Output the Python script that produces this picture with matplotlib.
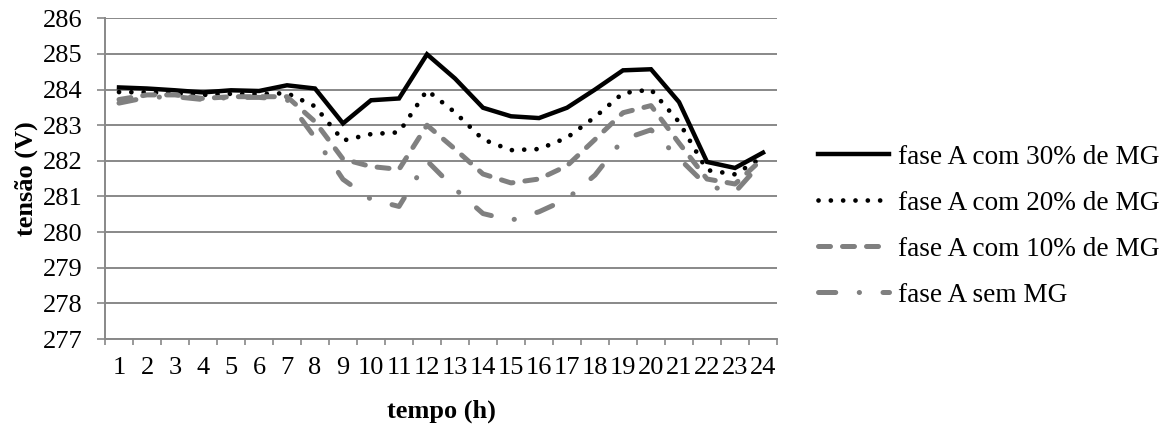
import matplotlib
matplotlib.use("Agg")
import matplotlib.pyplot as plt

plt.rcParams['font.family'] = ['Liberation Serif', 'DejaVu Serif']
plt.rcParams['font.size'] = 19

# hours of the day
horas = list(range(1, 25))

# voltage of phase A (V)
fase_30 = [284.06, 284.03, 283.98, 283.92, 283.98, 283.96, 284.12, 284.03, 283.05, 283.70,
           283.75, 284.99, 284.31, 283.49, 283.25, 283.20, 283.49, 284.00, 284.54, 284.57,
           283.65, 281.97, 281.80, 282.23]
fase_20 = [283.93, 283.92, 283.90, 283.85, 283.88, 283.87, 283.90, 283.53, 282.57, 282.75,
           282.80, 283.98, 283.36, 282.60, 282.30, 282.33, 282.65, 283.23, 283.90, 284.00,
           283.09, 281.74, 281.62, 282.11]
fase_10 = [283.72, 283.85, 283.85, 283.75, 283.80, 283.80, 283.80, 283.10, 282.05, 281.84,
           281.76, 283.00, 282.33, 281.63, 281.38, 281.49, 281.86, 282.60, 283.35, 283.55,
           282.50, 281.49, 281.35, 282.07]
fase_sem = [283.62, 283.78, 283.80, 283.72, 283.78, 283.78, 283.72, 282.65, 281.48, 280.92,
            280.72, 282.00, 281.21, 280.52, 280.33, 280.57, 280.93, 281.60, 282.60, 282.87,
            282.07, 281.30, 281.12, 282.00]

labels = ["fase A com 30% de MG", "fase A com 20% de MG",
          "fase A com 10% de MG", "fase A sem MG"]

grid_col = "#888888"
gray = "#808080"

fig = plt.figure(figsize=(11.65, 4.28), dpi=100)
ax = fig.add_axes([105 / 1165, 1 - 339 / 428, 672 / 1165, (339 - 18.3) / 428])

ax.plot(horas, fase_30, color="black", lw=3.2, solid_joinstyle="miter",
        label=labels[0])
ax.plot(horas, fase_20, color="black", lw=3.4, dashes=(0.01, 2.6),
        dash_capstyle="round", label=labels[1])
ax.plot(horas, fase_10, color=gray, lw=3.6, dashes=(2.4, 2.4),
        dash_capstyle="round", label=labels[2])
ax.plot(horas, fase_sem, color=gray, lw=3.6, dashes=(3.45, 4.7, 0.05, 4.7),
        dash_capstyle="round", label=labels[3])

ax.set_xlim(0.5, 24.5)
ax.set_ylim(277, 286)
ax.set_yticks(range(277, 287))
ax.set_xticks(horas)
ax.set_xticks([h - 0.5 for h in horas] + [24.5], minor=True)

ax.grid(axis="y", color=grid_col, lw=1.4)
ax.set_axisbelow(True)
for s in ["top", "right"]:
    ax.spines[s].set_visible(False)
for s in ["left", "bottom"]:
    ax.spines[s].set_color(grid_col)
    ax.spines[s].set_linewidth(1.4)

ax.tick_params(axis="y", direction="out", length=5.5, width=1.2, color=grid_col, pad=10.5)
ax.tick_params(axis="x", which="major", length=0, pad=13)
ax.tick_params(axis="x", which="minor", direction="out", length=4.5, width=1.2, color=grid_col)

ax.set_xlabel("tempo (h)", fontweight="bold")
ax.set_ylabel("tensão (V)", fontweight="bold")
ax.xaxis.set_label_coords(0.5, -0.19)
ax.yaxis.set_label_coords(-0.099, 0.5)

ax.legend(loc="upper left", bbox_to_anchor=(818 / 1165, 1 - 144.5 / 428),
          bbox_transform=fig.transFigure, frameon=False, borderpad=0,
          borderaxespad=0, handlelength=2.6, handletextpad=0.34,
          labelspacing=0.77, fontsize=19.6)

fig.savefig("out.png", dpi=100)
